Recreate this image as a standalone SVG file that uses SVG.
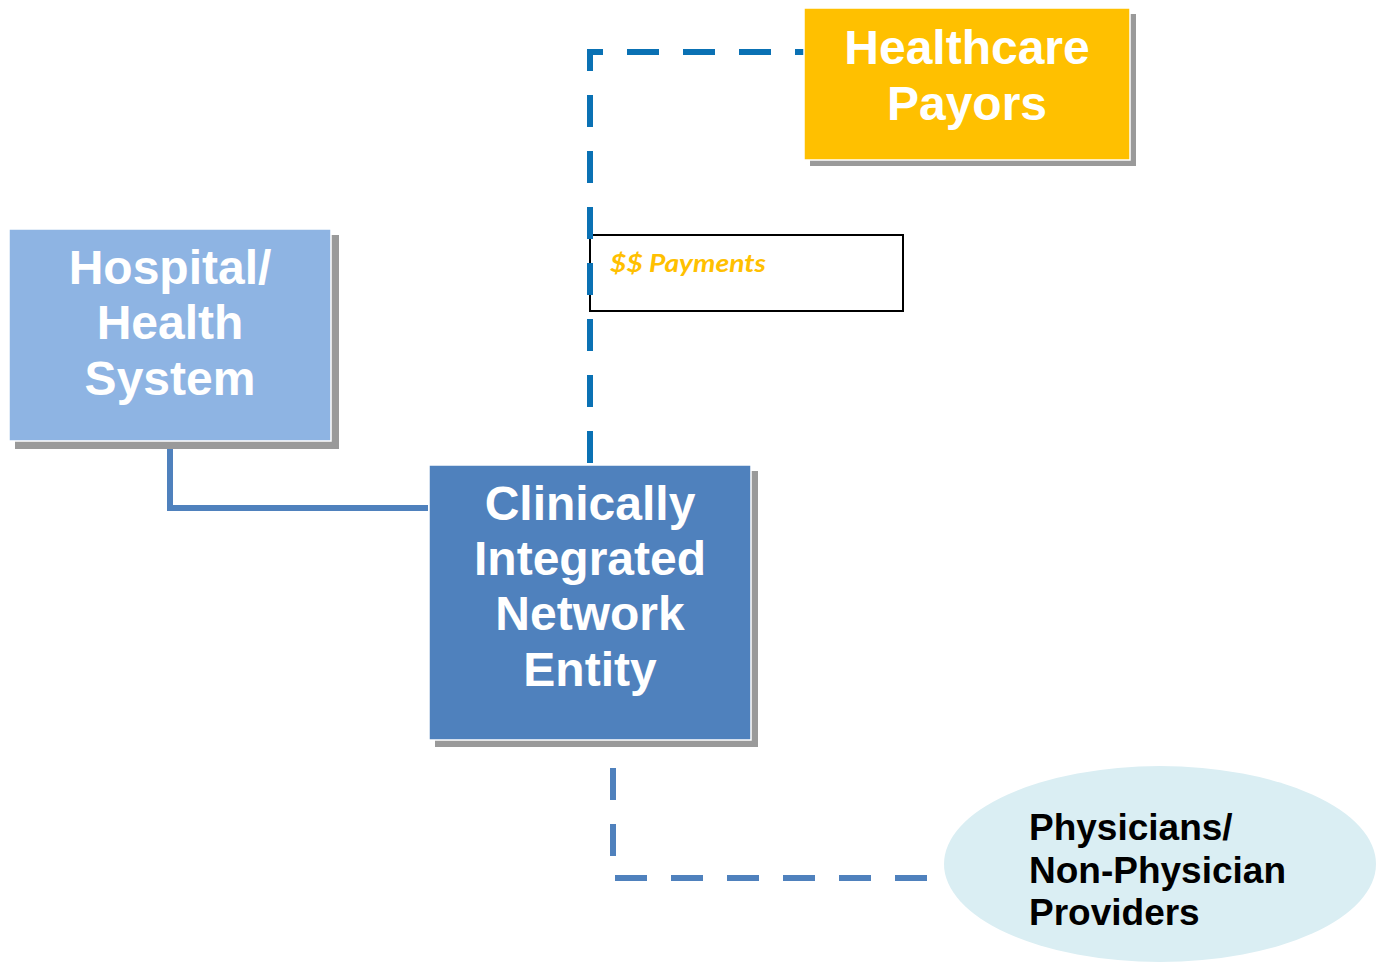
<svg xmlns="http://www.w3.org/2000/svg" width="1382" height="962" viewBox="0 0 1382 962">
<style>
.shadow{fill:#9a9a9a}
.box{stroke:#ffffff;stroke-width:1.5}
.wt{font-family:"Liberation Sans",Arial,sans-serif;font-weight:bold;fill:#ffffff;text-anchor:middle;font-size:48px}
.bt{font-family:"Liberation Sans",Arial,sans-serif;font-weight:bold;fill:#000000;font-size:37px}
.pay{font-family:Lato,"Open Sans",sans-serif;font-weight:bold;font-style:italic;fill:#ffc000;font-size:24px}
.dash{fill:none;stroke-width:6;stroke-dasharray:32 24}
</style>
<rect width="1382" height="962" fill="#ffffff"/>
<g id="payments-label">
<rect x="590" y="235" width="313" height="76" fill="#ffffff" stroke="#000000" stroke-width="2"/>
<text class="pay" x="610" y="272" textLength="156" lengthAdjust="spacingAndGlyphs">$$ Payments</text>
</g>
<g id="connectors">
<path class="dash" d="M804 52 H590 V463" stroke="#0a71b4" stroke-dashoffset="23"/>
<path d="M170 441 V508 H428" fill="none" stroke="#4f81bd" stroke-width="6"/>
<path class="dash" d="M613 768 V878 H928" stroke="#4f81bd"/>
</g>
<g id="healthcare-payors">
<rect class="shadow" x="810" y="14" width="326" height="152"/>
<rect class="box" x="804" y="8" width="326" height="152" fill="#ffc000"/>
<text class="wt" x="967" y="64">Healthcare</text>
<text class="wt" x="967" y="120">Payors</text>
</g>
<g id="hospital">
<rect class="shadow" x="15" y="235" width="324" height="214"/>
<rect class="box" x="9" y="229" width="322" height="212" fill="#8eb4e3"/>
<text class="wt" x="170" y="284">Hospital/</text>
<text class="wt" x="170" y="339">Health</text>
<text class="wt" x="170" y="395">System</text>
</g>
<g id="cin">
<rect class="shadow" x="435" y="471" width="323" height="276"/>
<rect class="box" x="429" y="465" width="322" height="275" fill="#4f81bd"/>
<text class="wt" x="590" y="520">Clinically</text>
<text class="wt" x="590" y="575">Integrated</text>
<text class="wt" x="590" y="630">Network</text>
<text class="wt" x="590" y="686">Entity</text>
</g>
<g id="physicians">
<ellipse cx="1160" cy="864" rx="216" ry="98" fill="#daeef3"/>
<text class="bt" x="1029" y="840">Physicians/</text>
<text class="bt" x="1029" y="883">Non-Physician</text>
<text class="bt" x="1029" y="925">Providers</text>
</g>
</svg>
